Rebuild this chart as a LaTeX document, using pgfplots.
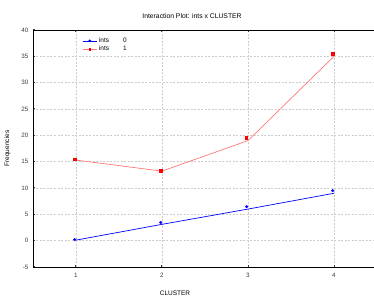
\documentclass[border=0pt]{standalone}
\usepackage{pgfplots}
\pgfplotsset{compat=1.18}
\usepackage{fontspec}
\setmainfont{Liberation Sans}
\definecolor{lred}{RGB}{255,120,120}
\definecolor{tickgray}{RGB}{60,60,60}
\begin{document}
\begin{tikzpicture}
\begin{axis}[
  name=ax,
  scale only axis,
  width=344pt, height=237pt,
  xmin=0.5, xmax=4.5, ymin=-5, ymax=40,
  xtick={1,2,3,4}, ytick={-5,0,5,...,40},
  grid=major,
  major grid style={gray!40, dash pattern=on 2pt off 1.5pt, line width=0.6pt},
  axis line style={line width=0.8pt},
  tick style={line width=1pt, tickgray},
  major tick length=2pt,
  tick align=inside,
  tick label style={font=\fontsize{6.3}{7}\selectfont, text=tickgray},
  /pgf/number format/assume math mode=true,
  xticklabel style={yshift=-3pt},
  yticklabel style={xshift=-1pt},
  title={Interaction Plot: ints x CLUSTER},
  title style={font=\fontsize{6.8}{8}\selectfont, yshift=2pt, xshift=-13pt},
  xlabel={CLUSTER},
  ylabel={Frequencies},
  label style={font=\fontsize{6.5}{8}\selectfont},
  xlabel style={yshift=-6pt, xshift=-30pt},
  ylabel style={yshift=4pt},
  legend style={at={(0.135,0.985)}, anchor=north west, draw=none, fill=none,
    font=\fontsize{6.5}{7.5}\selectfont, row sep=-2pt},
  legend cell align=left,
  legend image post style={scale=0.8},
]
\addlegendimage{blue, line width=0.7pt, mark=*, mark size=1.2pt}
\addlegendentry{ints\hspace{14pt}0}
\addlegendimage{lred, line width=0.7pt, mark=square*, mark size=1.2pt, mark options={fill=red, draw=red}}
\addlegendentry{ints\hspace{14pt}1}
\addplot[blue, line width=0.7pt, forget plot] coordinates {(1,0.1) (2,3.1) (3,6.0) (4,9.0)};
\addplot[lred, line width=0.7pt, forget plot] coordinates {(1,15.3) (2,13.2) (3,19.0) (4,35.0)};
\addplot[only marks, blue, mark=*, mark size=1.3pt, forget plot] coordinates {(0.985,0.2) (1.985,3.45) (2.985,6.45) (3.985,9.5)};
\addplot[only marks, red, mark=square*, mark size=1.2pt, forget plot] coordinates {(0.985,15.45) (1.985,13.3) (2.98,19.55) (3.985,35.5)};
\end{axis}
\pgfresetboundingbox
\path ([xshift=-33pt,yshift=-31pt]ax.south west) rectangle ([xshift=-3pt,yshift=30pt]ax.north east);
\end{tikzpicture}
\end{document}
